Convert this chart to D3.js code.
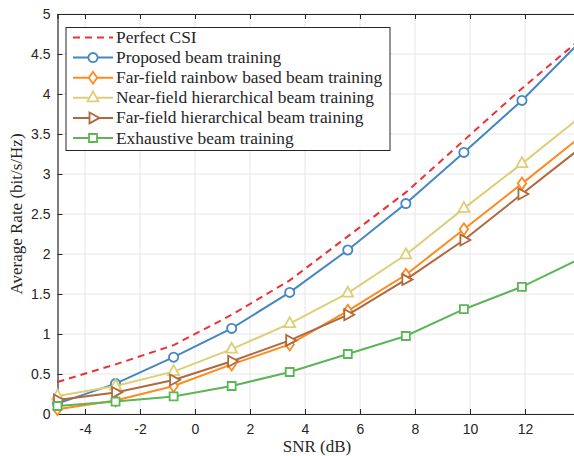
<!DOCTYPE html>
<html>
  <head>
    <meta charset="utf-8" />
    <title>Average rate vs SNR</title>
    <script src="https://d3js.org/d3.v7.min.js"></script>
    <style>
      body { margin: 0; background: #fff; }
      .tick text { font-family: "Liberation Sans", Arial, sans-serif; font-size: 14px; fill: #262626; }
      .lbl { font-family: "Liberation Serif", "DejaVu Serif", serif; fill: #262626; }
    </style>
  </head>
  <body>
    <svg width="574" height="456"></svg>
    <script>
      // data
      var snr = [-5, -2.889, -0.778, 1.333, 3.444, 5.556, 7.667, 9.778, 11.889, 14];
      var perfectCSI = [0.40, 0.62, 0.86, 1.24, 1.67, 2.22, 2.77, 3.42, 4.07, 4.68];
      var proposed   = [0.13, 0.38, 0.71, 1.07, 1.52, 2.05, 2.63, 3.27, 3.92, 4.65];
      var rainbow    = [0.06, 0.17, 0.35, 0.62, 0.87, 1.29, 1.74, 2.31, 2.88, 3.46];
      var nearHier   = [0.225, 0.35, 0.53, 0.81, 1.13, 1.51, 1.99, 2.57, 3.13, 3.71];
      var farHier    = [0.175, 0.27, 0.425, 0.66, 0.92, 1.24, 1.68, 2.175, 2.75, 3.32];
      var exhaustive = [0.10, 0.155, 0.22, 0.35, 0.525, 0.75, 0.975, 1.31, 1.59, 1.94];
      var xTicks = [-4, -2, 0, 2, 4, 6, 8, 10, 12];
      var yTicks = [0, 0.5, 1, 1.5, 2, 2.5, 3, 3.5, 4, 4.5, 5];

      var series = [
        {name: "Perfect CSI", vals: perfectCSI, color: "#ec3237", marker: null, dash: "7,5"},
        {name: "Proposed beam training", vals: proposed, color: "#4687c2", marker: "circle"},
        {name: "Far-field rainbow based beam training", vals: rainbow, color: "#ff8a1d", marker: "diamond"},
        {name: "Near-field hierarchical beam training", vals: nearHier, color: "#ddcf78", marker: "triangle"},
        {name: "Far-field hierarchical beam training", vals: farHier, color: "#b0693c", marker: "right"},
        {name: "Exhaustive beam training", vals: exhaustive, color: "#5cb556", marker: "square"}
      ];

      var svg = d3.select("svg");
      var pLeft = 57.5, pRight = 580, pTop = 14, pBottom = 414;

      var x = d3.scaleLinear().domain([-5, 14]).range([pLeft, pRight]);
      var y = d3.scaleLinear().domain([0, 5]).range([pBottom, pTop]);

      // grid
      svg.append("g").selectAll("line").data(xTicks).enter().append("line")
          .attr("x1", function(d) { return x(d); }).attr("x2", function(d) { return x(d); })
          .attr("y1", pTop).attr("y2", pBottom)
          .attr("stroke", "#e6e6e6").attr("stroke-width", 1);
      svg.append("g").selectAll("line").data(yTicks).enter().append("line")
          .attr("x1", pLeft).attr("x2", pRight)
          .attr("y1", function(d) { return y(d); }).attr("y2", function(d) { return y(d); })
          .attr("stroke", "#e6e6e6").attr("stroke-width", 1);

      // axes (plain hyphen minus like the original)
      var fmt = function(d) { return String(d); };
      svg.append("g")
          .attr("transform", "translate(0," + pBottom + ")")
          .call(d3.axisBottom(x).tickValues(xTicks).tickSize(-5).tickPadding(10).tickFormat(fmt));
      svg.append("g")
          .attr("transform", "translate(0," + pTop + ")")
          .call(d3.axisTop(x).tickValues(xTicks).tickSize(-5).tickFormat(""));
      svg.append("g")
          .attr("transform", "translate(" + pLeft + ",0)")
          .call(d3.axisLeft(y).tickValues(yTicks).tickSize(-5).tickPadding(7).tickFormat(fmt));
      svg.selectAll(".domain").attr("stroke", "#262626").attr("stroke-width", 1.2);
      svg.selectAll(".tick line").attr("stroke", "#262626");

      // lines
      var line = d3.line()
          .x(function(d) { return x(d[0]); })
          .y(function(d) { return y(d[1]); });

      function markerPath(type) {
        if (type == "diamond") return "M0,-6L4.2,0L0,6L-4.2,0Z";
        if (type == "triangle") return "M0,-6.5L5.5,3.5L-5.5,3.5Z";
        if (type == "right") return "M6.5,0L-3.5,5.5L-3.5,-5.5Z";
        if (type == "square") return "M-4,-4L4,-4L4,4L-4,4Z";
        return null;
      }

      function drawMarker(g, type, color) {
        if (type == "circle") {
          g.append("circle").attr("r", 4.6)
            .attr("fill", "#fff").attr("stroke", color).attr("stroke-width", 1.8);
        } else {
          g.append("path").attr("d", markerPath(type))
            .attr("fill", "#fff").attr("stroke", color).attr("stroke-width", 1.8);
        }
      }

      series.forEach(function(s) {
        var pts = snr.map(function(v, i) { return [v, s.vals[i]]; });
        var g = svg.append("g");
        g.append("path").datum(pts)
          .attr("d", line)
          .attr("fill", "none")
          .attr("stroke", s.color)
          .attr("stroke-width", 2)
          .attr("stroke-dasharray", s.dash || null);
        if (s.marker) {
          pts.forEach(function(p) {
            var m = g.append("g").attr("transform", "translate(" + x(p[0]) + "," + y(p[1]) + ")");
            drawMarker(m, s.marker, s.color);
          });
        }
      });

      // legend
      var lg = svg.append("g");
      lg.append("rect")
        .attr("x", 66).attr("y", 27.5).attr("width", 324).attr("height", 123)
        .attr("fill", "#fff").attr("stroke", "#262626").attr("stroke-width", 1);
      series.forEach(function(s, i) {
        var yy = 37.5 + i * 20.1;
        lg.append("line")
          .attr("x1", 73).attr("x2", 113).attr("y1", yy).attr("y2", yy)
          .attr("stroke", s.color).attr("stroke-width", 2)
          .attr("stroke-dasharray", s.dash || null);
        if (s.marker) {
          var m = lg.append("g").attr("transform", "translate(93," + yy + ")");
          drawMarker(m, s.marker, s.color);
        }
        lg.append("text").attr("class", "lbl")
          .attr("x", 116).attr("y", yy + 5.5)
          .style("font-size", "17.4px")
          .text(s.name);
      });

      // axis titles
      svg.append("text").attr("class", "lbl")
        .attr("x", 317).attr("y", 452)
        .attr("text-anchor", "middle")
        .style("font-size", "17px")
        .text("SNR (dB)");
      svg.append("text").attr("class", "lbl")
        .attr("transform", "translate(22,214) rotate(-90)")
        .attr("text-anchor", "middle")
        .style("font-size", "17px")
        .text("Average Rate (bit/s/Hz)");
    </script>
  </body>
</html>
